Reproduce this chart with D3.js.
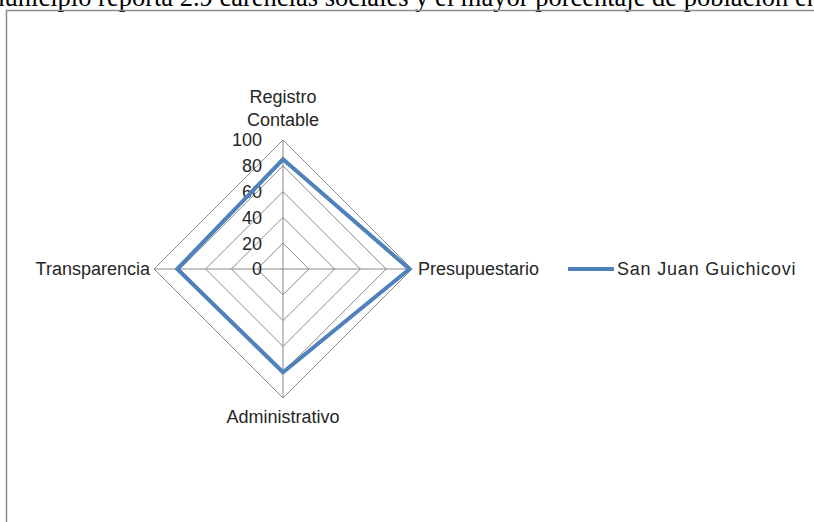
<!DOCTYPE html>
<html>
<head>
<meta charset="utf-8">
<script src="https://cdn.jsdelivr.net/npm/d3@7"></script>
<style>
  body { margin: 0; background: #fff; }
  svg { display: block; }
  .lbl { font-family: "Liberation Sans Narrow", "Arial Narrow", "Liberation Sans", sans-serif; font-size: 18px; fill: #262626; }
</style>
</head>
<body>
<div id="chart"></div>
<script>
// categories clockwise from top
let categories = [["Registro", "Contable"], ["Presupuestario"], ["Administrativo"], ["Transparencia"]];
let seriesName = "San Juan Guichicovi";
let seriesValues = [85, 98, 80, 82];
let tickValues = [0, 20, 40, 60, 80, 100];

let w = 814, h = 522;
let cx = 283, cy = 269, R = 129;

let svg = d3.select("#chart").append("svg")
    .attr("width", w)
    .attr("height", h);

// page text cut by the top edge
svg.append("text")
    .attr("x", -16)
    .attr("y", 6)
    .style("font-family", "'Liberation Serif', 'Times New Roman', serif")
    .style("font-size", "26.5px")
    .style("fill", "#000")
    .text("municipio reporta 2.9 carencias sociales y el mayor porcentaje de población en");

// chart frame
svg.append("rect")
    .attr("x", 6.5).attr("y", 10.5)
    .attr("width", 900).attr("height", 600)
    .attr("fill", "none")
    .attr("stroke", "#8c8c8c")
    .attr("stroke-width", 1.5);

let r = d3.scaleLinear().domain([0, 100]).range([0, R]);
let angle = d3.scaleLinear().domain([0, categories.length]).range([0, 2 * Math.PI]);

function pt(i, v) {
    let a = angle(i);
    return [cx + r(v) * Math.sin(a), cy - r(v) * Math.cos(a)];
}

let g = svg.append("g");

// grid diamonds
g.selectAll(".grid")
    .data(tickValues.filter(function(d) { return d > 0; }))
    .enter().append("path")
    .attr("class", "grid")
    .attr("d", function(t) {
        return d3.line()(categories.map(function(c, i) { return pt(i, t); })) + "Z";
    })
    .attr("fill", "none")
    .attr("stroke", "#8a8a8a")
    .attr("stroke-width", 1);

// spokes
g.selectAll(".spoke")
    .data(categories)
    .enter().append("line")
    .attr("class", "spoke")
    .attr("x1", cx).attr("y1", cy)
    .attr("x2", function(d, i) { return pt(i, 100)[0]; })
    .attr("y2", function(d, i) { return pt(i, 100)[1]; })
    .attr("stroke", "#8a8a8a")
    .attr("stroke-width", 1);

// value axis labels
g.selectAll(".tick")
    .data(tickValues)
    .enter().append("text")
    .attr("class", "lbl")
    .attr("x", cx - 21)
    .attr("y", function(d) { return cy - r(d); })
    .attr("dy", "0.35em")
    .attr("text-anchor", "end")
    .text(function(d) { return d; });

// series
g.append("path")
    .attr("d", d3.line()(seriesValues.map(function(v, i) { return pt(i, v); })) + "Z")
    .attr("fill", "none")
    .attr("stroke", "#4f81bd")
    .attr("stroke-width", 4)
    .attr("stroke-linejoin", "miter");

// category labels
let catPos = [
    {x: cx, y: 103, anchor: "middle"},
    {x: pt(1, 100)[0] + 6, y: cy + 6, anchor: "start"},
    {x: cx, y: 423, anchor: "middle"},
    {x: pt(3, 100)[0] - 4, y: cy + 6, anchor: "end"}
];
categories.forEach(function(c, i) {
    let t = svg.append("text")
        .attr("class", "lbl")
        .attr("text-anchor", catPos[i].anchor);
    c.forEach(function(line, j) {
        t.append("tspan")
            .attr("x", catPos[i].x)
            .attr("y", catPos[i].y + j * 23)
            .text(line);
    });
});

// legend
let lg = svg.append("g").attr("transform", "translate(568," + cy + ")");
lg.append("line")
    .attr("x1", 0).attr("x2", 46)
    .attr("y1", 0).attr("y2", 0)
    .attr("stroke", "#4f81bd")
    .attr("stroke-width", 4);
lg.append("text")
    .attr("class", "lbl")
    .attr("x", 49)
    .attr("y", 6)
    .style("letter-spacing", "0.8px")
    .text(seriesName);
</script>
</body>
</html>
